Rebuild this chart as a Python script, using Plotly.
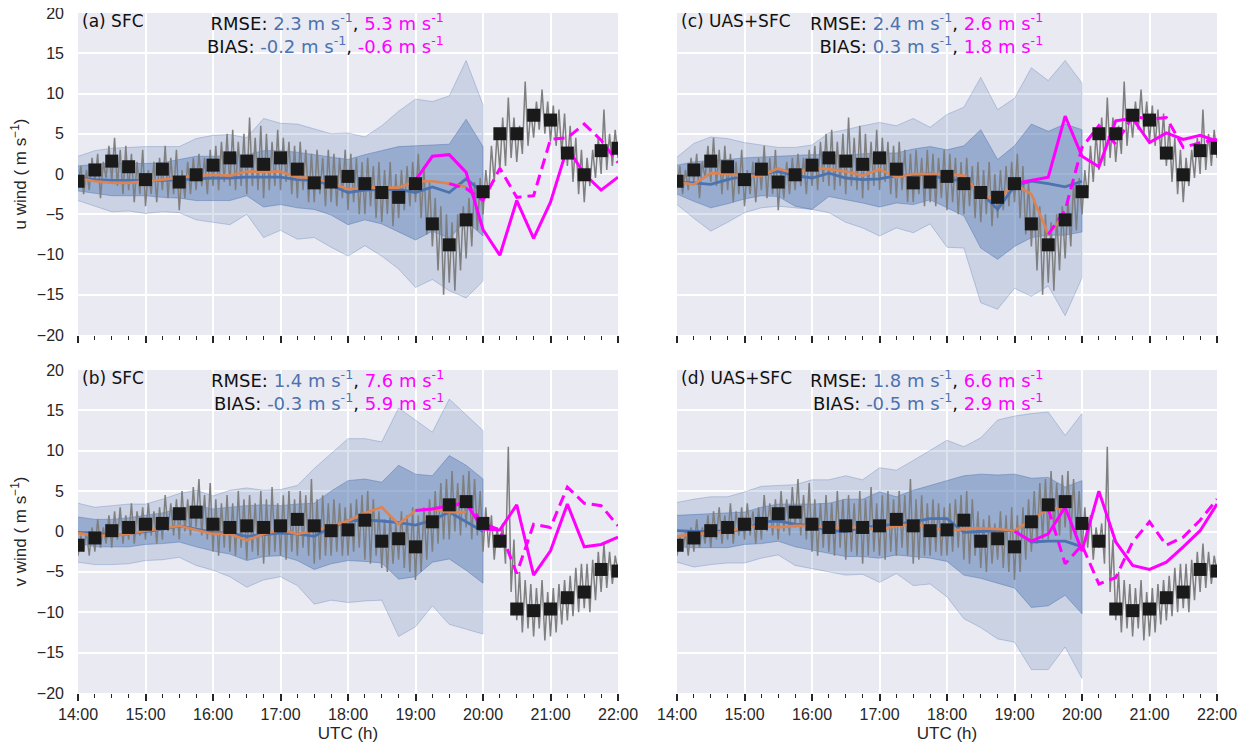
import plotly.graph_objects as go
from plotly.subplots import make_subplots

# ---------------- data ----------------
HOURS = [14, 15, 16, 17, 18, 19, 20, 21, 22]
HOUR_LABELS = ["14:00", "15:00", "16:00", "17:00", "18:00", "19:00", "20:00", "21:00", "22:00"]

# observed 15-min values (14:00 ... 22:00)
obs_u = [-0.9, 0.5, 1.6, 0.9, -0.7, 0.6, -1.0, -0.1, 1.1, 2.0, 1.6, 1.2, 2.0, 0.6, -1.1, -1.0,
         -0.3, -1.2, -2.3, -2.9, -1.2, -6.2, -8.8, -5.7, -2.2, 5.0, 5.0, 7.3, 6.7, 2.6, -0.1, 2.9, 3.2]
obs_v = [-1.7, -0.8, 0.1, 0.5, 0.9, 1.0, 2.2, 2.4, 0.9, 0.5, 0.7, 0.5, 0.7, 1.5, 0.7, 0.1,
         0.2, 1.4, -1.2, -0.9, -1.9, 1.2, 3.3, 3.7, 1.0, -1.2, -9.6, -9.8, -9.6, -8.2, -7.5, -4.7, -4.9]

# high-rate observation trace: min / max in 5-min bins (14:00 ... 21:55)
obs_u_lo = [-1.5, -2.5, -2.0, -1.0, -3.0, -0.5, -1.0, -1.5, -2.5, -2.0, -3.5, -2.5,
            -4.0, -2.5, -3.5, -2.0, -3.0, -2.5, -4.5, -3.0, -2.5, -2.0, -1.5, -2.5,
            -1.5, -2.0, -1.0, -1.5, -2.0, -1.5, -2.5, -1.5, -2.0, -3.0, -2.0, -1.5,
            -2.0, -1.0, -2.5, -3.0, -2.0, -3.5, -3.5, -2.5, -4.0, -3.5, -4.0, -3.0,
            -4.5, -3.5, -5.0, -5.0, -4.0, -5.5, -6.0, -5.0, -6.5, -5.5, -4.5, -4.0,
            -3.5, -5.5, -7.5, -9.0, -12.0, -15.0, -13.5, -14.5, -12.0, -10.5, -9.0, -7.0,
            -5.0, -3.0, -1.0, 0.5, 1.0, 2.0, 1.5, 2.5, 3.5, 4.5, 5.5, 5.0,
            4.0, 3.5, 2.5, 1.0, -1.0, -2.5, -3.5, -1.5, -0.5, 0.0, 0.5, 1.0]
obs_u_hi = [1.0, 0.5, 2.0, 2.5, 1.5, 3.5, 4.5, 3.0, 3.5, 2.5, 1.5, 3.0,
            0.5, 1.5, 2.0, 3.5, 2.0, 3.0, 0.5, 1.5, 2.0, 2.5, 2.0, 3.0,
            3.5, 4.0, 5.0, 5.5, 4.0, 5.0, 7.0, 4.5, 6.0, 5.0, 4.0, 5.5,
            4.5, 4.0, 3.5, 4.0, 3.0, 2.5, 3.0, 2.0, 3.0, 2.5, 2.0, 3.0,
            2.5, 2.0, 1.5, 2.0, 1.0, 1.5, 0.5, 1.5, 0.0, 0.5, 1.0, 1.5,
            2.5, 1.0, -1.0, -3.0, -4.0, -5.0, -6.0, -5.0, -4.0, -3.0, -1.0, -0.5,
            0.5, 3.5, 5.0, 7.0, 9.5, 7.0, 6.0, 11.5, 8.0, 9.0, 10.5, 9.0,
            8.5, 8.0, 7.5, 6.0, 4.5, 3.0, 2.0, 3.0, 4.5, 8.0, 5.0, 5.5]
obs_u_end = 2.0
obs_v_lo = [-3.0, -2.5, -3.0, -2.5, -2.0, -1.5, -2.0, -1.0, -1.5, -1.0, -1.5, -0.5,
            -1.0, -0.5, -1.5, -1.0, 0.0, -0.5, -1.0, 0.0, -0.5, 0.5, -0.5, -1.0,
            -2.5, -3.0, -2.0, -2.5, -3.0, -2.0, -3.5, -2.5, -3.0, -4.0, -3.0, -2.5,
            -3.0, -3.5, -2.5, -3.0, -2.0, -3.0, -4.0, -3.5, -3.0, -3.0, -2.5, -3.0,
            -3.0, -2.5, -2.0, -3.5, -4.0, -3.0, -4.5, -5.0, -4.0, -3.5, -4.5, -5.0,
            -6.0, -5.0, -3.5, -2.5, -1.5, -1.0, -1.0, 0.0, -0.5, 0.5, -1.0, -0.5,
            -2.5, -2.0, -3.5, -2.0, -4.0, -7.5, -11.0, -12.5, -12.0, -13.0, -12.0, -13.5,
            -13.0, -12.5, -11.5, -11.0, -10.5, -10.0, -9.5, -10.0, -8.5, -7.5, -7.0, -6.5]
obs_v_hi = [-0.5, 0.0, 0.5, 1.5, 0.5, 2.0, 2.5, 3.0, 2.0, 3.5, 2.5, 3.0,
            3.5, 2.5, 3.0, 4.5, 3.5, 4.0, 5.0, 4.0, 5.5, 6.5, 4.5, 6.0,
            4.0, 3.5, 4.5, 3.5, 5.0, 4.0, 4.5, 3.5, 5.0, 4.0, 5.5, 3.5,
            4.5, 5.0, 4.0, 5.0, 4.5, 6.5, 4.0, 4.5, 3.5, 4.0, 3.5, 3.0,
            3.5, 4.0, 4.5, 5.0, 4.0, 2.5, 1.5, 2.0, 1.0, 2.5, 2.0, 3.0,
            2.0, 3.0, 4.0, 5.0, 6.0, 6.5, 7.5, 6.0, 7.0, 7.5, 6.5, 5.0,
            3.0, 2.0, 0.5, 1.0, 10.5, -1.0, -5.0, -6.0, -6.5, -7.0, -6.0, -7.5,
            -7.0, -6.5, -6.0, -5.5, -4.5, -4.0, -4.0, -3.5, -2.5, -1.5, -2.5, -3.0]
obs_v_end = -5.0

# ---- panel (a) u, SFC ----
a_mean = [-0.5, -0.7, -0.8, -0.8, -0.8, -0.8, -0.7, -0.6, -0.5, -0.5, -0.4, -0.4, -0.4,
          -0.7, -0.8, -1.4, -2.3, -2.0, -1.9, -1.9, -2.3, -1.6, -2.3, -0.6, -2.3]
a_orange = [-0.5, -0.9, -1.1, -1.1, -0.9, -0.7, -0.5, -0.2, -0.1, -0.2, 0.3, 0.3,
            0.3, -0.4, -0.5, -1.1, -1.9, -1.7, -1.7, -1.7, -0.9, -0.9, -1.2, -1.6]
a_outer_hi = [2.2, 2.9, 3.2, 3.3, 3.4, 3.4, 3.4, 4.4, 4.8, 4.9, 4.5, 6.9, 6.3,
              6.2, 5.6, 5.0, 5.1, 4.6, 6.0, 7.8, 9.3, 9.0, 9.7, 14.1, 8.6]
a_inner_hi = [1.0, 1.2, 1.4, 1.3, 1.3, 1.4, 1.8, 2.2, 2.2, 2.3, 2.4, 2.9, 2.9,
              2.7, 2.4, 2.1, 1.8, 2.4, 2.9, 3.4, 3.5, 3.6, 3.7, 6.8, 3.4]
a_inner_lo = [-2.1, -2.4, -2.7, -2.7, -2.7, -2.9, -3.0, -3.3, -3.3, -3.3, -2.7, -4.1, -3.8,
              -4.2, -4.4, -5.1, -6.3, -5.7, -6.2, -7.2, -8.2, -7.1, -8.0, -5.8, -7.7]
a_outer_lo = [-3.3, -4.0, -4.7, -4.6, -4.9, -4.7, -4.8, -5.7, -6.0, -6.3, -5.0, -7.9, -7.0,
              -8.1, -7.9, -9.1, -10.2, -8.9, -10.2, -11.8, -14.1, -13.1, -14.5, -15.4, -13.3]
a_fc_solid = [-0.8, 2.2, 2.4, 0.2, -6.9, -10.1, -3.3, -8.0, -3.5, 3.3, 0.0, -2.0, -0.4]
a_fc_dash = [-1.2, -1.8, -3.3, 0.7, -2.9, -2.7, 4.3, 4.5, 6.2, 4.2, 1.4]

# ---- panel (b) v, SFC ----
b_mean = [-0.1, -0.2, -0.5, -0.3, 0.0, 0.3, 0.7, 0.3, -0.1, -0.2, -0.6, -0.4, -0.2,
          -0.3, -0.6, 0.5, 1.3, 1.4, 1.3, 1.1, 0.8, 1.4, 2.4, 1.2, 0.0]
b_orange = [-0.2, -0.5, -0.5, -0.3, 0.1, 0.4, 0.7, 0.2, -0.3, -0.3, -1.1, -0.3,
            0.2, -0.3, 0.1, 0.7, 1.3, 2.3, 3.0, 0.9, 2.6, 2.8, 2.4, 2.4]
b_outer_hi = [3.5, 3.0, 3.2, 3.4, 3.4, 4.0, 4.7, 5.1, 4.4, 5.1, 5.4, 5.1, 5.2,
              5.7, 7.8, 9.6, 11.5, 11.5, 11.1, 15.3, 13.8, 12.3, 16.4, 14.5, 12.5]
b_inner_hi = [1.8, 1.5, 1.5, 1.7, 2.0, 2.3, 2.8, 3.2, 2.8, 3.0, 3.2, 3.3, 3.2,
              3.4, 3.5, 5.0, 6.3, 6.5, 6.1, 8.2, 7.1, 6.9, 9.4, 8.2, 6.5]
b_inner_lo = [-1.4, -1.9, -1.9, -1.9, -1.6, -1.5, -1.3, -1.9, -2.4, -2.8, -3.6, -3.1, -3.0,
              -3.6, -4.7, -4.0, -3.6, -3.7, -3.9, -5.9, -5.6, -3.8, -3.4, -4.8, -6.4]
b_outer_lo = [-3.8, -4.1, -4.1, -4.0, -3.6, -3.5, -3.2, -4.2, -4.8, -5.6, -6.9, -6.0, -5.6,
              -6.7, -9.0, -8.5, -8.8, -8.6, -8.5, -13.0, -11.8, -9.2, -11.5, -12.1, -12.7]
b_fc_solid = [2.6, 2.8, 3.2, 3.5, 0.3, 0.2, 3.3, -5.4, -2.4, 3.4, -1.9, -1.6, -0.7]
b_fc_dash = [3.0, 3.8, 1.0, 0.2, -5.2, 0.9, 0.5, 5.5, 3.5, 3.2, 0.7]

# ---- panel (c) u, UAS+SFC ----
c_mean = [-1.0, -1.1, -1.3, -0.7, -0.2, 0.1, 0.3, -0.2, -0.5, 0.1, -0.5, -0.7, -0.6,
          -0.2, -0.1, 0.0, -0.8, -0.7, -2.3, -4.4, -1.5, -0.9, -1.2, -1.6, -0.9]
c_orange = [-1.0, -1.3, 0.1, 0.0, -0.3, -0.2, 0.7, 0.0, 0.8, 0.6, 0.3, -0.2,
            0.6, -0.4, 0.0, 0.0, 0.0, -0.2, -2.7, -3.1, -1.3, -2.5, -7.5, -5.0]
c_outer_hi = [2.1, 3.8, 4.6, 4.4, 3.9, 3.6, 3.3, 3.3, 3.6, 5.1, 5.5, 6.0, 6.4,
              6.0, 6.9, 5.8, 7.4, 8.3, 12.0, 8.0, 9.4, 13.2, 11.6, 14.1, 11.3]
c_inner_hi = [1.1, 1.5, 1.7, 1.8, 2.0, 2.1, 2.2, 2.3, 2.4, 2.4, 2.3, 2.5, 2.6,
              2.6, 3.1, 3.4, 3.0, 3.5, 5.5, 1.8, 3.5, 6.2, 5.3, 6.2, 5.5]
c_inner_lo = [-2.5, -3.4, -4.2, -3.7, -3.1, -2.7, -2.8, -4.0, -4.4, -2.8, -3.2, -3.6, -4.1,
              -3.6, -3.8, -3.2, -4.2, -5.2, -9.2, -10.6, -9.0, -7.9, -7.6, -7.6, -7.2]
c_outer_lo = [-3.8, -5.5, -7.1, -6.0, -4.8, -4.2, -4.0, -4.2, -4.4, -4.8, -6.0, -6.7, -7.7,
              -6.7, -7.3, -6.2, -9.1, -9.2, -16.0, -16.8, -14.2, -15.2, -13.9, -17.6, -12.9]
c_fc_solid = [-1.2, -0.8, -0.4, 7.2, 2.2, 0.9, 6.6, 6.9, 3.9, 5.1, 4.3, 4.8, 4.1]
c_fc_dash = [-7.5, -4.5, 3.3, 6.0, 3.7, 7.2, 6.8, 7.0, 3.3, 3.9, 4.3]

# ---- panel (d) v, UAS+SFC ----
d_mean = [0.1, 0.0, 0.0, 0.1, 0.2, 1.2, 1.3, 0.9, 0.7, 0.1, 0.0, 0.5, 0.7,
          0.9, 1.2, 1.6, 1.6, -0.1, 0.0, 0.1, 0.1, -1.3, -1.2, -1.2, -1.9]
d_orange = [-0.6, -0.3, -0.2, 0.0, 0.5, 0.7, 0.5, 0.7, 0.7, 0.5, 0.5, 0.5,
            0.2, 0.7, 0.9, 0.6, 0.0, 0.3, 0.4, 0.3, 0.1, 1.4, 2.8, 3.0]
d_outer_hi = [3.6, 4.0, 4.3, 4.3, 4.9, 5.6, 5.7, 5.8, 6.4, 6.4, 6.9, 6.4, 7.9,
              7.6, 8.8, 10.1, 11.3, 10.5, 11.6, 13.8, 14.3, 14.6, 14.8, 11.9, 14.6]
d_inner_hi = [2.0, 2.1, 2.2, 2.3, 2.4, 3.0, 3.4, 3.4, 3.4, 3.5, 4.0, 4.0, 4.9,
              4.3, 5.1, 5.7, 6.3, 6.9, 7.1, 7.0, 7.1, 6.6, 6.7, 5.5, 6.3]
d_inner_lo = [-1.9, -2.0, -2.0, -2.0, -1.6, -1.5, -1.2, -1.9, -2.3, -2.7, -3.1, -3.1, -3.3,
              -2.9, -3.1, -3.3, -3.7, -5.4, -5.8, -6.4, -7.0, -9.4, -9.2, -7.9, -10.2]
d_outer_lo = [-3.8, -4.4, -4.1, -3.9, -3.9, -3.3, -2.9, -4.2, -4.6, -5.0, -5.4, -5.3, -6.3,
              -5.2, -6.7, -6.5, -8.1, -10.8, -11.9, -13.3, -13.7, -17.1, -17.1, -14.3, -18.2]
d_fc_solid = [0.0, -1.2, -0.3, 3.0, -2.4, 5.0, -1.3, -4.2, -4.7, -3.8, -1.9, 0.1, 3.4]
d_fc_dash = [2.8, -4.0, -1.7, -6.5, -5.7, -1.3, 1.2, -1.7, -0.7, 1.4, 4.0]

panel_labels = ["(a) SFC", "(b) SFC", "(c) UAS+SFC", "(d) UAS+SFC"]
rmse_blue = ["2.3", "1.4", "2.4", "1.8"]
rmse_mag = ["5.3", "7.6", "2.6", "6.6"]
bias_blue = ["-0.2", "-0.3", "0.3", "-0.5"]
bias_mag = ["-0.6", "5.9", "1.8", "2.9"]

# ---------------- style ----------------
BLUE = "#4C72B0"
ORANGE = "#DD8452"
MAG = "#FF00FF"
BG = "#EAEAF2"
TXT = "#262626"
TICKFONT = dict(family="Liberation Sans, Arial, sans-serif", size=16, color=TXT)
LABELFONT = dict(family="DejaVu Sans, sans-serif", size=17, color="#111111")
STATFONT = dict(family="DejaVu Sans, sans-serif", size=18, color="#111111")

T0 = 14.0
Q = 0.25
BIN = 5.0 / 60.0

t_model = [T0 + Q * i for i in range(25)]
t_orange = t_model[:24]
t_obs = [T0 + Q * i for i in range(33)]
t_solid = [19.0 + Q * i for i in range(13)]
t_dash = [19.5 + Q * i for i in range(11)]


def zigzag(lo, hi, end):
    xs, ys = [], []
    for i, (a, b) in enumerate(zip(lo, hi)):
        t = T0 + i * BIN
        xs += [t, t + BIN / 2]
        ys += [a, b]
    xs.append(22.0)
    ys.append(end)
    return xs, ys


ux, uy = zigzag(obs_u_lo, obs_u_hi, obs_u_end)
vx, vy = zigzag(obs_v_lo, obs_v_hi, obs_v_end)

fig = make_subplots(rows=2, cols=2)

panels = [
    (1, 1, a_mean, a_orange, a_outer_hi, a_inner_hi, a_inner_lo, a_outer_lo, a_fc_solid, a_fc_dash, "u", 0),
    (2, 1, b_mean, b_orange, b_outer_hi, b_inner_hi, b_inner_lo, b_outer_lo, b_fc_solid, b_fc_dash, "v", 1),
    (1, 2, c_mean, c_orange, c_outer_hi, c_inner_hi, c_inner_lo, c_outer_lo, c_fc_solid, c_fc_dash, "u", 2),
    (2, 2, d_mean, d_orange, d_outer_hi, d_inner_hi, d_inner_lo, d_outer_lo, d_fc_solid, d_fc_dash, "v", 3),
]

for (r, c, mean, orng, ohi, ihi, ilo, olo, fsol, fdash, comp, k) in panels:
    poly_x = t_model + t_model[::-1]
    fig.add_trace(go.Scatter(x=poly_x, y=ohi + olo[::-1], fill="toself",
                             fillcolor="rgba(76,114,176,0.20)",
                             line=dict(color="rgba(76,114,176,0.30)", width=1),
                             mode="lines", hoverinfo="skip"), row=r, col=c)
    fig.add_trace(go.Scatter(x=poly_x, y=ihi + ilo[::-1], fill="toself",
                             fillcolor="rgba(76,114,176,0.40)",
                             line=dict(color="rgba(76,114,176,0.45)", width=1),
                             mode="lines", hoverinfo="skip"), row=r, col=c)
    gx, gy = (ux, uy) if comp == "u" else (vx, vy)
    fig.add_trace(go.Scatter(x=gx, y=gy, mode="lines",
                             line=dict(color="#7f7f7f", width=1.5)), row=r, col=c)
    fig.add_trace(go.Scatter(x=t_model, y=mean, mode="lines",
                             line=dict(color=BLUE, width=2.8)), row=r, col=c)
    fig.add_trace(go.Scatter(x=t_orange, y=orng, mode="lines",
                             line=dict(color=ORANGE, width=2.6)), row=r, col=c)
    fig.add_trace(go.Scatter(x=t_solid, y=fsol, mode="lines",
                             line=dict(color=MAG, width=3)), row=r, col=c)
    fig.add_trace(go.Scatter(x=t_dash, y=fdash, mode="lines",
                             line=dict(color=MAG, width=3, dash="11px,6px")), row=r, col=c)
    obs = obs_u if comp == "u" else obs_v
    fig.add_trace(go.Scatter(x=t_obs, y=obs, mode="markers",
                             marker=dict(symbol="square", size=13, color="#1a1a1a",
                                         line=dict(width=0))), row=r, col=c)

    axn = {(1, 1): "", (1, 2): "2", (2, 1): "3", (2, 2): "4"}[(r, c)]
    fig.add_annotation(xref=f"x{axn} domain", yref=f"y{axn} domain", x=0.004, y=1,
                       yshift=-8, xanchor="left", yanchor="middle",
                       text=panel_labels[k], showarrow=False, font=LABELFONT)
    txt = (f"RMSE: <span style='color:{BLUE}'>{rmse_blue[k]} m s<sup>-1</sup></span>, "
           f"<span style='color:{MAG}'>{rmse_mag[k]} m s<sup>-1</sup></span><br>"
           f"BIAS: <span style='color:{BLUE}'>{bias_blue[k]} m s<sup>-1</sup></span>, "
           f"<span style='color:{MAG}'>{bias_mag[k]} m s<sup>-1</sup></span>")
    fig.add_annotation(xref=f"x{axn} domain", yref=f"y{axn} domain", x=0.682, y=1,
                       yshift=-20, xanchor="right", yanchor="middle", align="right",
                       text=txt, showarrow=False, font=STATFONT)

minor_vals = [T0 + Q * i for i in range(33) if i % 4 != 0]

xdom = {1: [0.0, 0.4741], 2: [0.5259, 1.0]}
ydom = {1: [0.5265, 1.0], 2: [0.0, 0.475]}
AXTITLE = dict(family="Liberation Sans, Arial, sans-serif", size=17, color=TXT)

for r in (1, 2):
    for c in (1, 2):
        xkw = dict(domain=xdom[c], range=[14, 22],
                   tickmode="array", tickvals=HOURS, ticktext=HOUR_LABELS,
                   showticklabels=(r == 2), ticks="outside", ticklen=7, tickwidth=1.6,
                   tickcolor=TXT, tickfont=TICKFONT, showgrid=True, gridcolor="white",
                   gridwidth=1.5, zeroline=False, showline=False,
                   ticklabeloverflow="allow",
                   minor=dict(tickmode="array", tickvals=minor_vals, ticks="outside",
                              ticklen=4, tickwidth=1.3, tickcolor=TXT, showgrid=False))
        if r == 2:
            xkw["title"] = dict(text="UTC (h)", font=AXTITLE, standoff=4)
        fig.update_xaxes(row=r, col=c, **xkw)
        ykw = dict(domain=ydom[r], range=[-20, 20],
                   tickmode="array", tickvals=[-20, -15, -10, -5, 0, 5, 10, 15, 20],
                   showticklabels=(c == 1), ticks="", tickfont=TICKFONT,
                   ticklabelstandoff=13, ticklabeloverflow="allow",
                   showgrid=True, gridcolor="white", gridwidth=1.5,
                   zeroline=False, showline=False)
        if c == 1:
            ykw["title"] = dict(text=("u wind ( m s<sup>−1</sup>)" if r == 1 else "v wind ( m s<sup>−1</sup>)"),
                                font=AXTITLE, standoff=6)
        fig.update_yaxes(row=r, col=c, **ykw)

# the page body adds an 8px offset, so the figure is 8px smaller and shifted
fig.update_layout(width=1243, height=738, showlegend=False,
                  plot_bgcolor=BG, paper_bgcolor="white",
                  margin=dict(l=70, r=34, t=5, b=53, autoexpand=False))

fig.write_html("out.html")
